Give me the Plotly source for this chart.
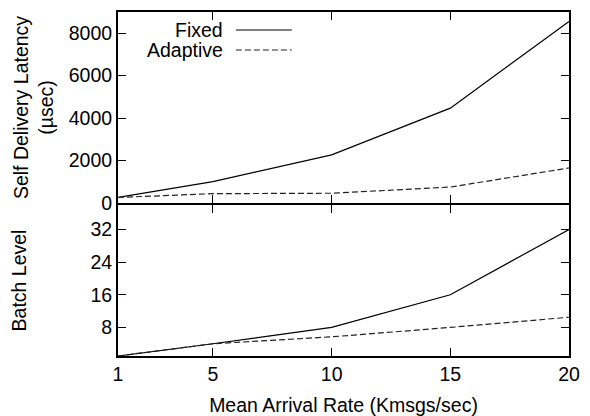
import plotly.graph_objects as go

rate = [1, 5, 10, 15, 20]
latency_fixed = [260, 1010, 2270, 4470, 8550]
latency_adaptive = [260, 440, 460, 750, 1650]
batch_fixed = [1, 4, 8, 16, 32]
batch_adaptive = [1, 4, 5.7, 8, 10.5]

x_ticks = [1, 5, 10, 15, 20]
lat_ticks = [0, 2000, 4000, 6000, 8000]
batch_ticks = [8, 16, 24, 32]

FONT = "Liberation Sans"
FS = 19.5

fig = go.Figure()
fig.add_trace(go.Scatter(x=rate, y=latency_fixed, mode="lines", name="Fixed",
                         line=dict(color="black", width=1.2), xaxis="x", yaxis="y"))
fig.add_trace(go.Scatter(x=rate, y=latency_adaptive, mode="lines", name="Adaptive",
                         line=dict(color="#222", width=1.2, dash="6px,3px"), xaxis="x", yaxis="y"))
fig.add_trace(go.Scatter(x=rate, y=batch_fixed, mode="lines", showlegend=False,
                         line=dict(color="black", width=1.2), xaxis="x2", yaxis="y2"))
fig.add_trace(go.Scatter(x=rate, y=batch_adaptive, mode="lines", showlegend=False,
                         line=dict(color="#222", width=1.2, dash="6px,3px"), xaxis="x2", yaxis="y2"))

H = 344
W = 451.5
axis_common = dict(showline=True, linecolor="black", linewidth=2, mirror="ticks",
                   ticks="inside", ticklen=8, tickwidth=1.3, tickcolor="black",
                   showgrid=False, zeroline=False, automargin=False,
                   tickfont=dict(family=FONT, size=FS, color="black"))

fig.update_layout(
    width=590, height=416,
    margin=dict(l=118, r=20.5, t=12, b=60),
    paper_bgcolor="white", plot_bgcolor="white",
    showlegend=False,
    font=dict(family=FONT, size=FS, color="black"),
    xaxis=dict(domain=[0, 1], range=[1, 20], tickvals=x_ticks, showticklabels=False,
               anchor="y", **axis_common),
    yaxis=dict(domain=[153 / H, 1], range=[0, 9000], tickvals=lat_ticks,
               ticktext=[str(v) for v in lat_ticks], anchor="x",
               title=dict(text="Self Delivery Latency<br>(µsec)", standoff=10,
                          font=dict(family=FONT, size=FS)), **axis_common),
    xaxis2=dict(domain=[0, 1], range=[1, 20], tickvals=x_ticks, anchor="y2",
                title=dict(text="Mean Arrival Rate (Kmsgs/sec)", standoff=14,
                           font=dict(family=FONT, size=FS)), **axis_common),
    yaxis2=dict(domain=[0, 151 / H], range=[1, 38], tickvals=batch_ticks, anchor="x2",
                title=dict(text="Batch Level", standoff=59,
                           font=dict(family=FONT, size=FS)), **axis_common),
)

# custom legend (text left of sample line, gnuplot style)
def px(x):
    return (x - 118) / W
def py(y):
    return (356 - y) / H

legend_rows = [("Fixed", "solid", "black", 30), ("Adaptive", "6px,3px", "#222", 50)]
for label, dash, color, yy in legend_rows:
    fig.add_annotation(x=px(225), y=py(yy), xref="paper", yref="paper", text=label,
                       showarrow=False, xanchor="right", yanchor="middle",
                       font=dict(family=FONT, size=FS, color="black"))
    fig.add_shape(type="line", xref="paper", yref="paper", x0=px(236), x1=px(292),
                  y0=py(yy), y1=py(yy), line=dict(color=color, width=1.2, dash=dash))

fig.write_html("out.html")
